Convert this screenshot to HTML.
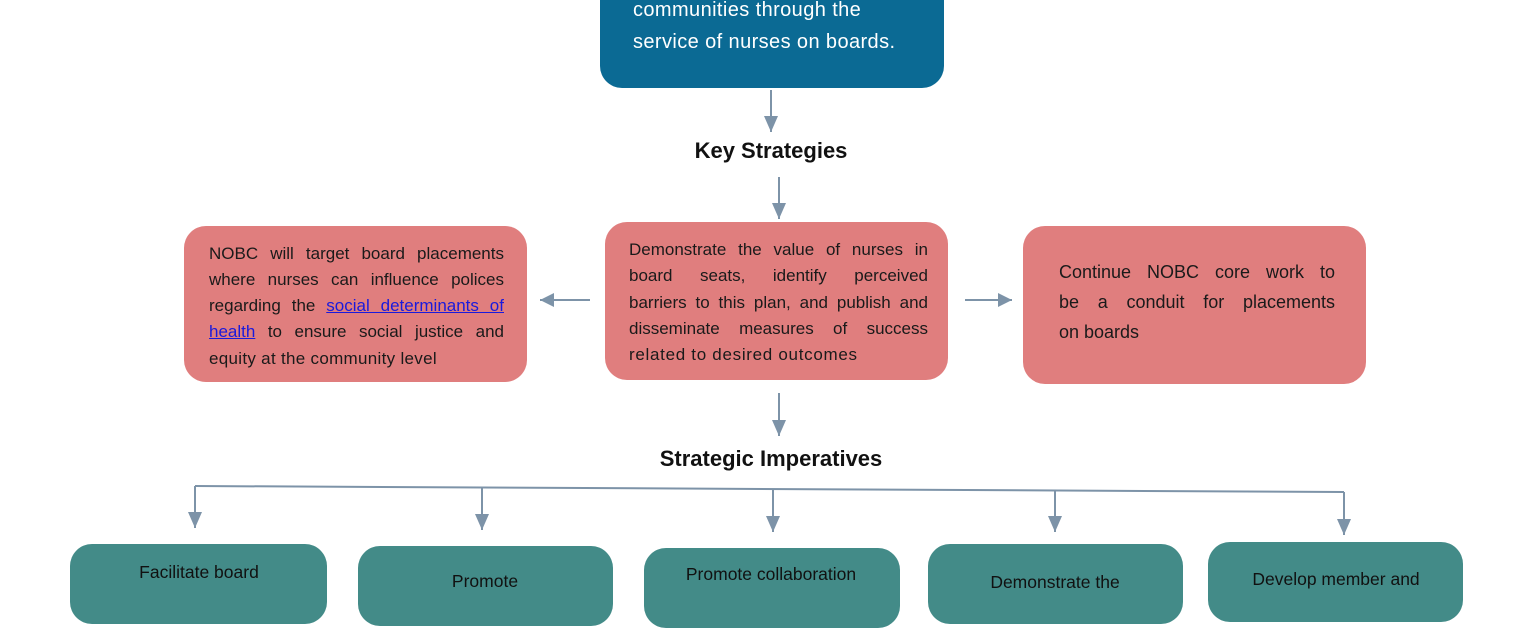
<!DOCTYPE html>
<html><head><meta charset="utf-8"><style>
body{margin:0;width:1540px;height:580px;overflow:hidden;background:#fff;position:relative;font-family:"Liberation Sans",sans-serif}
.b{position:absolute;border-radius:22px}
.pk{background:#e07e7e}
.tl{background:#438b88}
.ln{position:absolute;font-size:17px;color:#1a1a1a;white-space:nowrap;text-align:justify;text-align-last:justify;line-height:20px}
.ln.l{text-align-last:left}
.h{position:absolute;font-weight:bold;font-size:22px;color:#111;transform:translateX(-50%);white-space:nowrap}
.bt{position:absolute;font-size:17.5px;color:#111;transform:translateX(-50%);white-space:nowrap}
a{color:#1a1adc}
</style></head><body>
<div class="b" style="left:600px;top:-30px;width:344px;height:118px;background:#0b6a94"></div>
<div style="position:absolute;left:633px;top:-6px;font-size:20px;color:#fff;line-height:32px;letter-spacing:0.4px">communities through the<br>service of nurses on boards.</div>

<svg width="1540" height="580" style="position:absolute;left:0;top:0">
<defs>
<marker id="d" markerWidth="14" markerHeight="16" refX="7" refY="16" orient="0" markerUnits="userSpaceOnUse"><path d="M0,0 L14,0 L7,16 z" fill="#7d93a8"/></marker></defs>
<g stroke="#7d93a8" stroke-width="2" fill="none">
<line x1="771" y1="90" x2="771" y2="132" marker-end="url(#d)"/>
<line x1="779" y1="177" x2="779" y2="219" marker-end="url(#d)"/>
<line x1="779" y1="393" x2="779" y2="436" marker-end="url(#d)"/>
<line x1="590" y1="300" x2="540" y2="300"/>
<line x1="965" y1="300" x2="1012" y2="300"/>
<polyline points="195,486 1344,492"/>
<line x1="195" y1="486" x2="195" y2="528" marker-end="url(#d)"/>
<line x1="482" y1="488" x2="482" y2="530" marker-end="url(#d)"/>
<line x1="773" y1="489" x2="773" y2="532" marker-end="url(#d)"/>
<line x1="1055" y1="491" x2="1055" y2="532" marker-end="url(#d)"/>
<line x1="1344" y1="492" x2="1344" y2="535" marker-end="url(#d)"/>
</g>
<path d="M540,300 l14,-7 v14 z" fill="#7d93a8"/>
<path d="M1012,300 l-14,-7 v14 z" fill="#7d93a8"/>
</svg>

<div class="h" style="left:771px;top:138px">Key Strategies</div>
<div class="h" style="left:771px;top:446px">Strategic Imperatives</div>

<div class="b pk" style="left:184px;top:226px;width:343px;height:156px"></div>
<div class="ln" style="left:209px;top:244px;width:295px">NOBC will target board placements</div>
<div class="ln" style="left:209px;top:270px;width:295px">where nurses can influence polices</div>
<div class="ln" style="left:209px;top:296px;width:295px">regarding the <a href="#">social determinants of</a></div>
<div class="ln" style="left:209px;top:322px;width:295px"><a href="#">health</a> to ensure social justice and</div>
<div class="ln l" style="left:209px;top:349px;width:295px;letter-spacing:0.3px">equity at the community level</div>

<div class="b pk" style="left:605px;top:222px;width:343px;height:158px"></div>
<div class="ln" style="left:629px;top:240px;width:299px">Demonstrate the value of nurses in</div>
<div class="ln" style="left:629px;top:266px;width:299px">board seats, identify perceived</div>
<div class="ln" style="left:629px;top:293px;width:299px">barriers to this plan, and publish and</div>
<div class="ln" style="left:629px;top:319px;width:299px">disseminate measures of success</div>
<div class="ln l" style="left:629px;top:345px;width:299px;letter-spacing:0.7px">related to desired outcomes</div>

<div class="b pk" style="left:1023px;top:226px;width:343px;height:158px"></div>
<div class="ln" style="left:1059px;top:262px;width:276px;font-size:18px">Continue NOBC core work to</div>
<div class="ln" style="left:1059px;top:292px;width:276px;font-size:18px">be a conduit for placements</div>
<div class="ln l" style="left:1059px;top:322px;width:276px;font-size:18px">on boards</div>

<div class="b tl" style="left:70px;top:544px;width:257px;height:80px"></div>
<div class="bt" style="left:199px;top:562px">Facilitate board</div>
<div class="b tl" style="left:358px;top:546px;width:255px;height:80px"></div>
<div class="bt" style="left:485px;top:571px">Promote</div>
<div class="b tl" style="left:644px;top:548px;width:256px;height:80px"></div>
<div class="bt" style="left:771px;top:564px">Promote collaboration</div>
<div class="b tl" style="left:928px;top:544px;width:255px;height:80px"></div>
<div class="bt" style="left:1055px;top:572px">Demonstrate the</div>
<div class="b tl" style="left:1208px;top:542px;width:255px;height:80px"></div>
<div class="bt" style="left:1336px;top:569px">Develop member and</div>
</body></html>
